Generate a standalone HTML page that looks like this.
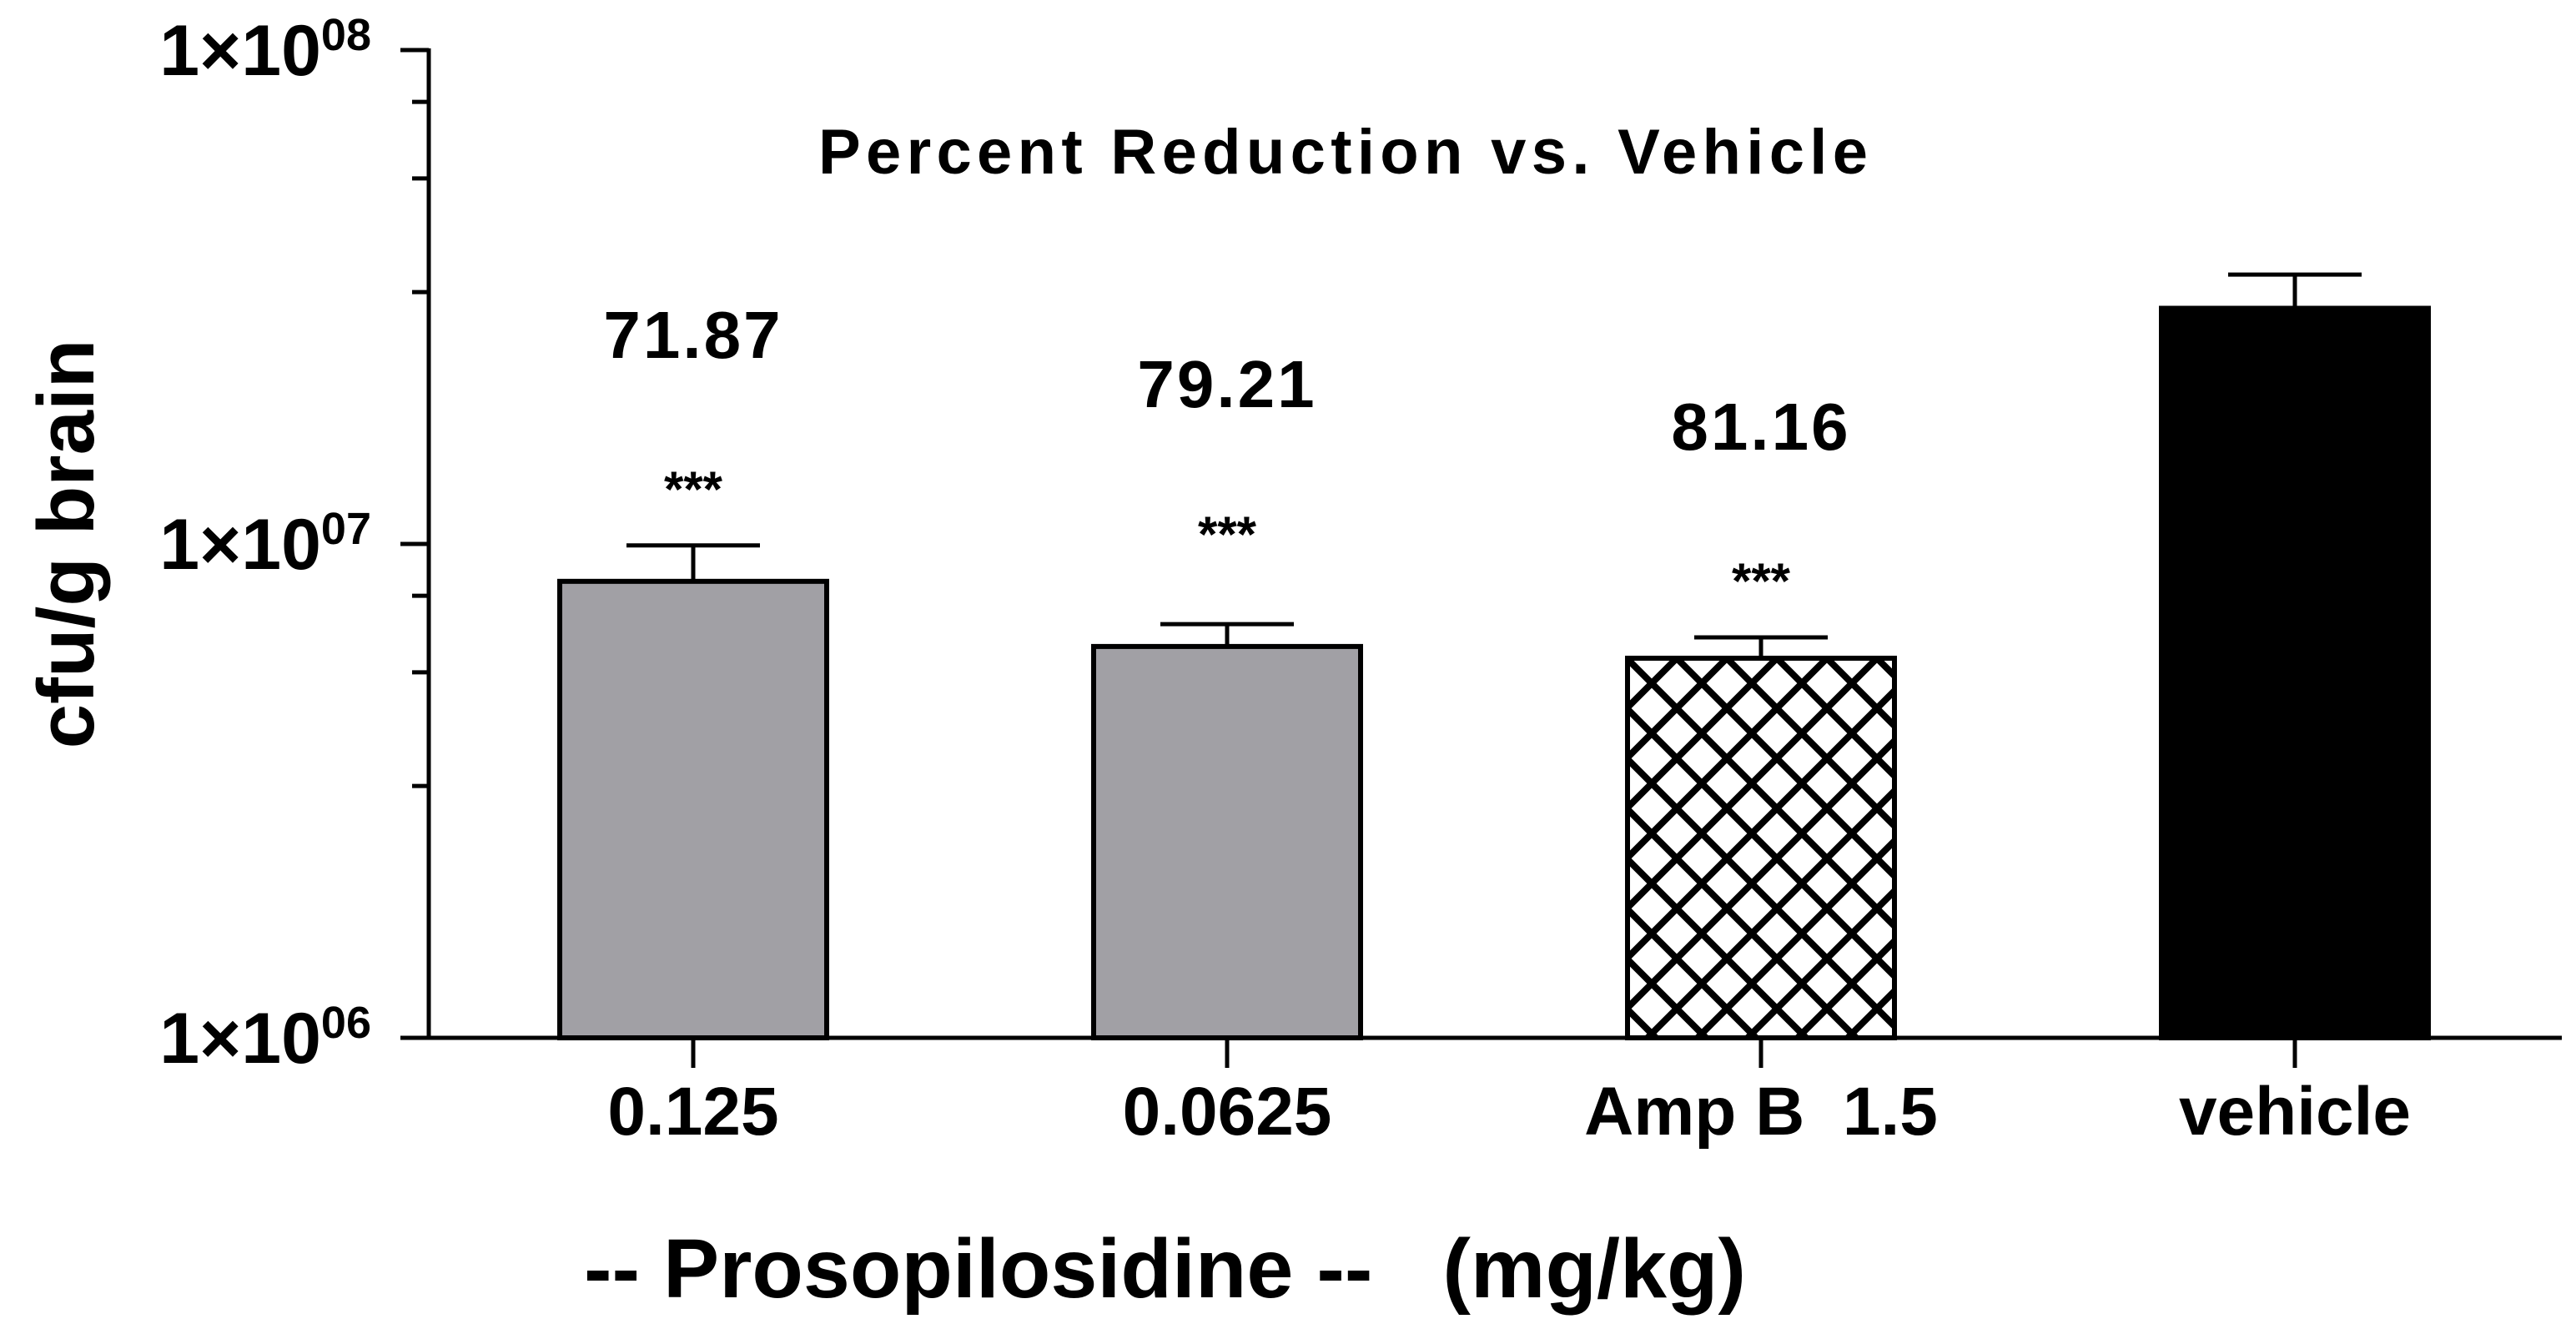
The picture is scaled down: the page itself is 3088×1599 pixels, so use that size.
<!DOCTYPE html>
<html><head><meta charset="utf-8"><style>
html,body{margin:0;padding:0;background:#fff;}
svg{display:block;font-family:"Liberation Sans",Arial,sans-serif;font-weight:bold;}
text{white-space:pre;}
</style></head><body>
<svg id="chart" width="3088" height="1599" viewBox="0 0 3088 1599" xmlns="http://www.w3.org/2000/svg">
<defs>
<pattern id="hatch" patternUnits="userSpaceOnUse" width="60" height="60" x="1950" y="789">
<rect width="60" height="60" fill="#fff"/>
<path d="M-15,15 L15,-15 M0,60 L60,0 M45,75 L75,45 M-15,45 L15,75 M0,0 L60,60 M45,-15 L75,15" stroke="#000" stroke-width="8"/>
</pattern>
</defs>
<text x="981" y="208" font-size="76" textLength="1258" lengthAdjust="spacing">Percent Reduction vs. Vehicle</text>
<text transform="translate(112,652) rotate(-90)" font-size="96" text-anchor="middle">cfu/g brain</text>
<text x="700" y="1555" font-size="100" textLength="1393" lengthAdjust="spacingAndGlyphs" xml:space="preserve">-- Prosopilosidine --   (mg/kg)</text>
<g id="axes"></g>
<g id="bars"></g>
</svg>
<script>
const categories = ["0.125", "0.0625", "Amp B  1.5", "vehicle"];
const means = [8.4e6, 6.2e6, 5.87e6, 3.0e7];
const errors = [1.53e6, 0.68e6, 0.6e6, 0.51e7];
const percentLabels = ["71.87", "79.21", "81.16", ""];
const sigLabels = ["***", "***", "***", ""];
const decades = [6, 7, 8];
const minorFractions = [0.105, 0.26, 0.49];

// layout offsets (px above error-bar top) for annotations
const pctGap = [225, 260, 225, 0];
const sigGap = [47, 87, 47, 0];

const NS = "http://www.w3.org/2000/svg";
const yBottom = 1244, decadePx = 592, xLeft = 514, xRight = 3071;
const firstCenter = 831, step = 640, barW = 320, capW = 160;
function y(v){ return yBottom - decadePx * (Math.log10(v) - 6); }
function x(i){ return firstCenter + step * i; }
function mk(tag, attrs, parent){
  const e = document.createElementNS(NS, tag);
  for (const k in attrs) e.setAttribute(k, attrs[k]);
  parent.appendChild(e); return e;
}
const axes = document.getElementById('axes');
const bars = document.getElementById('bars');

const yAxis = mk('line', {x1:xLeft, y1:y(1e8)-2, x2:xLeft, y2:yBottom+2, stroke:'#000','stroke-width':5}, axes);


const xAxis = mk('line', {x1:xLeft-34, y1:yBottom, x2:xRight, y2:yBottom, stroke:'#000','stroke-width':5}, axes);



decades.forEach(d => {
  const ty = y(Math.pow(10, d));
  const t = mk('line', {x1:xLeft-34, y1:ty, x2:xLeft, y2:ty, stroke:'#000','stroke-width':5}, axes);
  
  
  const lab = mk('text', {x:445, y:ty+30, 'font-size':86, 'text-anchor':'end'}, axes);
  
  
  const main = mk('tspan', {}, lab); main.textContent = '1\u00d710';
  const sup = mk('tspan', {'font-size':54, dy:-30}, lab); sup.textContent = '0' + d;
  if (d < 8) {
    minorFractions.forEach(f => {
      const my = ty - decadePx * (1 - f);
      const m = mk('line', {x1:xLeft-20, y1:my, x2:xLeft, y2:my, stroke:'#000','stroke-width':5}, axes);
      
      
    });
  }
});

const fills = ['#a1a0a5', '#a1a0a5', 'url(#hatch)', '#000'];
categories.forEach((c, i) => {
  const cx = x(i), top = y(means[i]), etop = y(means[i] + errors[i]);
  const eb = mk('line', {x1:cx, y1:top, x2:cx, y2:etop, stroke:'#000','stroke-width':5}, bars);
  
  
  const cap = mk('line', {x1:cx-capW/2, y1:etop, x2:cx+capW/2, y2:etop, stroke:'#000','stroke-width':5}, bars);
  
  
  const r = mk('rect', {x:cx-barW/2, y:top, width:barW, height:yBottom-top, fill:fills[i], stroke:'#000','stroke-width':6}, bars);
  
  
  const tk = mk('line', {x1:cx, y1:yBottom, x2:cx, y2:1280, stroke:'#000','stroke-width':5}, axes);
  
  
  const xl = mk('text', {x:cx, y:1360, 'font-size':82, 'text-anchor':'middle'}, axes);
  
  
  xl.textContent = c;
  if (percentLabels[i]) {
    const pl = mk('text', {x:cx, y:etop - pctGap[i], 'font-size':80, 'text-anchor':'middle', 'letter-spacing':3}, bars);
    
    
    pl.textContent = percentLabels[i];
  }
  if (sigLabels[i]) {
    const sl = mk('text', {x:cx, y:etop - sigGap[i], 'font-size':60, 'text-anchor':'middle'}, bars);
    
    
    sl.textContent = sigLabels[i];
  }
});
</script>
</body></html>
